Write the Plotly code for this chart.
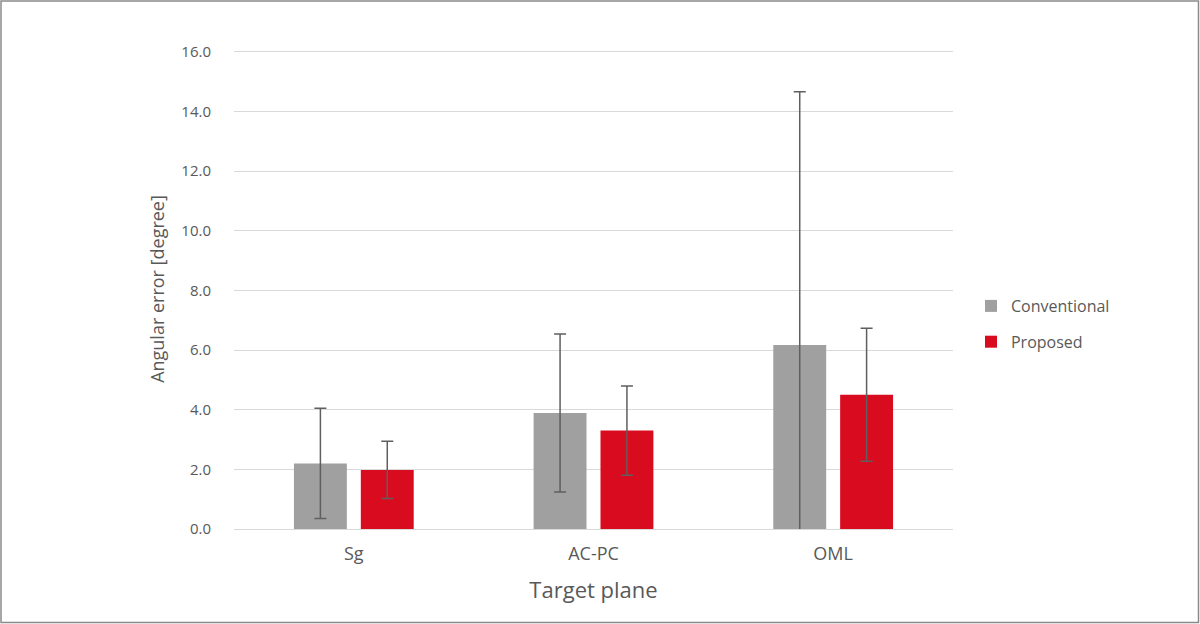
import plotly.graph_objects as go

categories = ["Sg", "AC-PC", "OML"]
conventional = [2.2, 3.89, 6.17]
conventional_err = [1.85, 2.65, 8.5]
proposed = [1.98, 3.3, 4.5]
proposed_err = [0.96, 1.5, 2.23]
y_ticks = [0, 2, 4, 6, 8, 10, 12, 14, 16]

W, H = 1200, 624
L, R, T, B = 234, 247, 49, 95
pw, ph = W - L - R, H - T - B

err_style = dict(type="data", color="#5f5f5f", thickness=1.5, width=6)

fig = go.Figure()
fig.add_trace(go.Bar(
    x=categories, y=conventional, name="Conventional",
    marker=dict(color="#a0a0a0", line=dict(width=0)),
    error_y=dict(array=conventional_err, **err_style),
    legendgroup="a",
))
fig.add_trace(go.Bar(
    x=categories, y=proposed, name="Proposed",
    marker=dict(color="#d90b1f", line=dict(width=0)),
    error_y=dict(array=proposed_err, **err_style),
    legendgroup="b",
))

fig.add_shape(type="rect", xref="paper", yref="paper",
              x0=-(L - 1) / pw, x1=1 + (R - 1.5) / pw,
              y0=-(B - 1.5) / ph, y1=1 + (T - 1) / ph,
              line=dict(color="#8a8a8a", width=1.5), layer="above")

fig.update_layout(
    width=W, height=H,
    margin=dict(l=L, r=R, t=T, b=B, autoexpand=False),
    paper_bgcolor="white", plot_bgcolor="white",
    font=dict(family="Open Sans", color="#595959"),
    barmode="group", bargap=0.442, bargroupgap=0.209,
    showlegend=True,
    legend=dict(x=1.025, y=0.5, xanchor="left", yanchor="top",
                font=dict(size=16, color="#595959"), tracegroupgap=12,
                itemwidth=30, bgcolor="rgba(0,0,0,0)"),
    xaxis=dict(
        showgrid=False, showline=False, zeroline=False, ticks="",
        tickfont=dict(size=18, color="#595959"), ticklabelstandoff=12,
        title=dict(text="Target plane", font=dict(size=22, color="#595959"), standoff=18),
    ),
    yaxis=dict(
        range=[0, 16.1], tickvals=y_ticks, tickformat=".1f",
        showgrid=True, gridcolor="#d9d9d9", gridwidth=1,
        zeroline=True, zerolinecolor="#d9d9d9", zerolinewidth=1,
        showline=False, ticks="",
        tickfont=dict(size=15, color="#595959"), ticklabelstandoff=22,
        title=dict(text="Angular error [degree]", font=dict(size=18, color="#595959"), standoff=12),
    ),
)

fig.write_html("out.html")
